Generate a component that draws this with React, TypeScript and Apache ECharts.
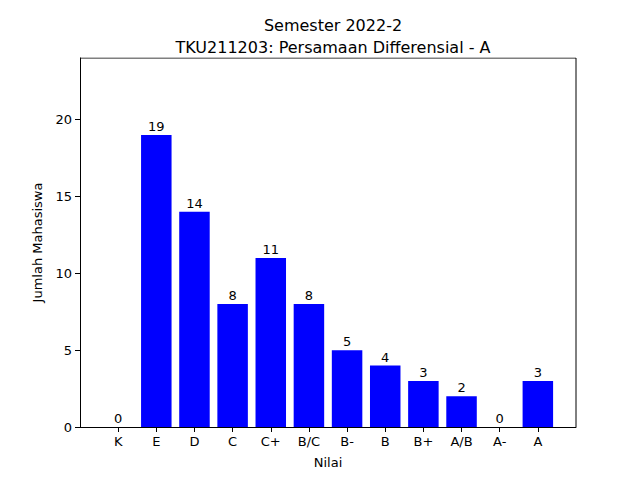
import React, { useEffect, useRef } from "react";
import * as echarts from "echarts";

const categories = ["K", "E", "D", "C", "C+", "B/C", "B-", "B", "B+", "A/B", "A-", "A"];
const counts = [0, 19, 14, 8, 11, 8, 5, 4, 3, 2, 0, 3];
const yTicks = [0, 5, 10, 15, 20];

export default function App() {
  const ref = useRef<HTMLDivElement>(null);
  useEffect(() => {
    const chart = echarts.init(ref.current!, null, { renderer: "svg" });
    const font = "DejaVu Sans";
    chart.setOption({
      animation: false,
      textStyle: { fontFamily: font },
      title: {
        text: "Semester 2022-2\nTKU211203: Persamaan Differensial - A",
        left: 328,
        top: 9,
        textAlign: "center",
        textStyle: { fontFamily: font, fontSize: 16, fontWeight: "normal", color: "#000", lineHeight: 22 },
      },
      grid: { left: 80, right: 64, top: 58, bottom: 53 },
      xAxis: {
        type: "value",
        min: -1,
        max: 12,
        interval: 1,
        name: "Nilai",
        nameLocation: "middle",
        nameGap: 29,
        nameTextStyle: { fontFamily: font, fontSize: 13, color: "#000" },
        axisLine: { onZero: false, lineStyle: { color: "#000" } },
        axisTick: { show: true, length: 5, lineStyle: { color: "#000" }, customValues: categories.map((_, i) => i) },
        splitLine: { show: false },
        axisLabel: {
          fontFamily: font,
          fontSize: 13,
          color: "#000",
          margin: 8,
          customValues: categories.map((_, i) => i),
          formatter: (v: number) => categories[v] ?? "",
        },
      },
      yAxis: {
        type: "value",
        min: 0,
        max: 24,
        interval: 5,
        name: "Jumlah Mahasiswa",
        nameLocation: "middle",
        nameGap: 36,
        nameTextStyle: { fontFamily: font, fontSize: 13, color: "#000" },
        axisLine: { show: true, onZero: false, lineStyle: { color: "#000" } },
        axisTick: { show: true, length: 5, lineStyle: { color: "#000" }, customValues: yTicks },
        splitLine: { show: false },
        axisLabel: {
          fontFamily: font,
          fontSize: 13,
          color: "#000",
          margin: 8,
          customValues: yTicks,
        },
      },
      series: [
        {
          type: "bar",
          data: counts.map((v, i) => [i, v]),
          barWidth: 30.5,
          itemStyle: { color: "#0000ff" },
          label: { show: true, position: "top", distance: 2, fontFamily: font, fontSize: 13, color: "#000", formatter: (p: any) => String(p.value[1]) },
        },
        {
          type: "line",
          data: [[-1, 24], [12, 24]],
          symbol: "none",
          lineStyle: { color: "#000", width: 1 },
          silent: true,
        },
        {
          type: "line",
          data: [[12, 0], [12, 24]],
          symbol: "none",
          lineStyle: { color: "#000", width: 1 },
          silent: true,
        },
      ],
    });
    return () => chart.dispose();
  }, []);
  return <div ref={ref} style={{ width: 640, height: 480, position: "absolute", left: 0, top: 0 }} />;
}
